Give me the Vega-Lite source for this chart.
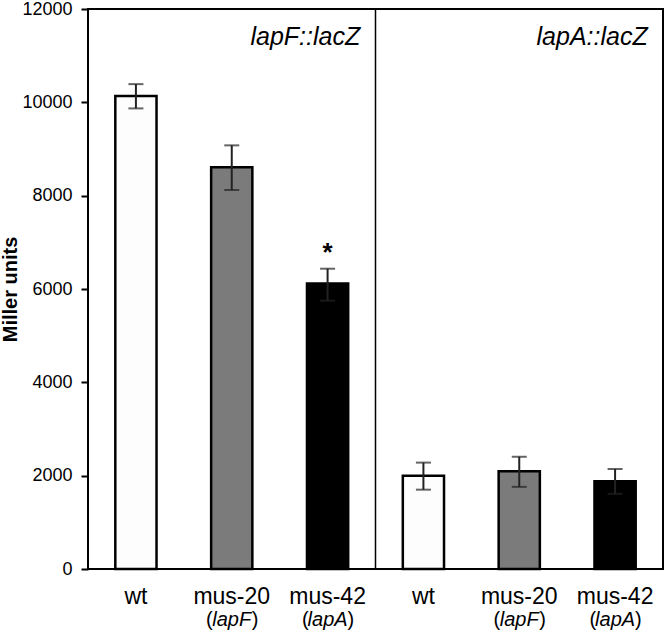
{
  "$schema": "https://vega.github.io/schema/vega-lite/v6.json",
  "width": 575,
  "height": 560,
  "autosize": {"type": "none"},
  "padding": {"left": 88, "top": 9, "right": 3, "bottom": 65},
  "background": "#ffffff",
  "config": {
    "view": {"stroke": "#000000", "strokeWidth": 2},
    "font": "Liberation Sans",
    "axis": {"grid": false}
  },
  "data": {
    "values": [
      {"key": "wtF", "strain": "wt", "sub": null, "panel": "lapF::lacZ", "miller": 10135, "lo": 9870, "hi": 10390, "sig": ""},
      {"key": "mus-20F", "strain": "mus-20", "sub": "lapF", "panel": "lapF::lacZ", "miller": 8607, "lo": 8121, "hi": 9078, "sig": ""},
      {"key": "mus-42F", "strain": "mus-42", "sub": "lapA", "panel": "lapF::lacZ", "miller": 6118, "lo": 5750, "hi": 6435, "sig": "*"},
      {"key": "wtA", "strain": "wt", "sub": null, "panel": "lapA::lacZ", "miller": 2000, "lo": 1700, "hi": 2280, "sig": ""},
      {"key": "mus-20A", "strain": "mus-20", "sub": "lapF", "panel": "lapA::lacZ", "miller": 2093, "lo": 1760, "hi": 2405, "sig": ""},
      {"key": "mus-42A", "strain": "mus-42", "sub": "lapA", "panel": "lapA::lacZ", "miller": 1879, "lo": 1610, "hi": 2143, "sig": ""}
    ]
  },
  "encoding": {
    "x": {
      "field": "key",
      "type": "nominal",
      "sort": ["wtF", "mus-20F", "mus-42F", "wtA", "mus-20A", "mus-42A"],
      "scale": {"paddingInner": 0.57, "paddingOuter": 0.285},
      "axis": {
        "title": null,
        "labelAngle": 0,
        "domain": false,
        "ticks": false,
        "tickSize": 0,
        "labelFontSize": 23,
        "labelColor": "#000000",
        "labelBaseline": "alphabetic",
        "labelPadding": 34,
        "labelExpr": "replace(replace(datum.label, 'F', ''), 'A', '')"
      }
    }
  },
  "layer": [
    {
      "mark": {"type": "bar", "stroke": "#000000", "strokeWidth": 2.5},
      "encoding": {
        "y": {
          "field": "miller",
          "type": "quantitative",
          "scale": {"domain": [0, 12000], "nice": false},
          "axis": {
            "title": "Miller units",
            "titleFontSize": 20,
            "titleFontWeight": "bold",
            "titleColor": "#000000",
            "titlePadding": 1,
            "values": [0, 2000, 4000, 6000, 8000, 10000, 12000],
            "format": "d",
            "domain": false,
            "tickColor": "#000000",
            "tickWidth": 2,
            "tickSize": 7,
            "labelFontSize": 18,
            "labelColor": "#000000",
            "labelPadding": 9
          }
        },
        "color": {
          "field": "strain",
          "type": "nominal",
          "scale": {"domain": ["wt", "mus-20", "mus-42"], "range": ["#fdfdfd", "#7b7b7b", "#000000"]},
          "legend": null
        }
      }
    },
    {
      "mark": {"type": "rule", "stroke": "#222222", "strokeWidth": 2},
      "encoding": {
        "y": {"field": "lo", "type": "quantitative"},
        "y2": {"field": "hi"}
      }
    },
    {
      "mark": {"type": "tick", "size": 15, "thickness": 2, "color": "#222222"},
      "encoding": {"y": {"field": "hi", "type": "quantitative"}}
    },
    {
      "mark": {"type": "tick", "size": 15, "thickness": 2, "color": "#222222"},
      "encoding": {"y": {"field": "lo", "type": "quantitative"}}
    },
    {
      "transform": [{"filter": "datum.sig != ''"}],
      "mark": {"type": "text", "fontSize": 26, "fontWeight": "bold", "baseline": "alphabetic", "dy": -8, "color": "#000000"},
      "encoding": {
        "y": {"field": "hi", "type": "quantitative"},
        "text": {"field": "sig"}
      }
    },
    {
      "transform": [{"filter": "datum.strain == 'mus-42'"}],
      "mark": {"type": "text", "fontSize": 25, "fontStyle": "italic", "align": "right", "baseline": "alphabetic", "dx": 12, "color": "#000000"},
      "encoding": {
        "x": {"field": "key", "type": "nominal", "sort": ["wtF", "mus-20F", "mus-42F", "wtA", "mus-20A", "mus-42A"], "bandPosition": 1},
        "y": {"datum": 11230, "type": "quantitative"},
        "text": {"field": "panel"}
      }
    },
    {
      "transform": [{"filter": "datum.key == 'wtA'"}],
      "mark": {"type": "rule", "stroke": "#000000", "strokeWidth": 1.5},
      "encoding": {
        "x": {"field": "key", "type": "nominal", "sort": ["wtF", "mus-20F", "mus-42F", "wtA", "mus-20A", "mus-42A"], "bandPosition": -0.6628}
      }
    },
    {
      "transform": [{"filter": "datum.sub != null"}],
      "mark": {"type": "text", "fontSize": 20, "align": "right", "baseline": "alphabetic", "dx": -19, "color": "#000000"},
      "encoding": {
        "y": {"datum": -1221, "type": "quantitative"},
        "text": {"value": "("}
      }
    },
    {
      "transform": [{"filter": "datum.sub != null"}],
      "mark": {"type": "text", "fontSize": 20, "fontStyle": "italic", "align": "center", "baseline": "alphabetic", "color": "#000000"},
      "encoding": {
        "y": {"datum": -1221, "type": "quantitative"},
        "text": {"field": "sub"}
      }
    },
    {
      "transform": [{"filter": "datum.sub != null"}],
      "mark": {"type": "text", "fontSize": 20, "align": "left", "baseline": "alphabetic", "dx": 20, "color": "#000000"},
      "encoding": {
        "y": {"datum": -1221, "type": "quantitative"},
        "text": {"value": ")"}
      }
    }
  ]
}
